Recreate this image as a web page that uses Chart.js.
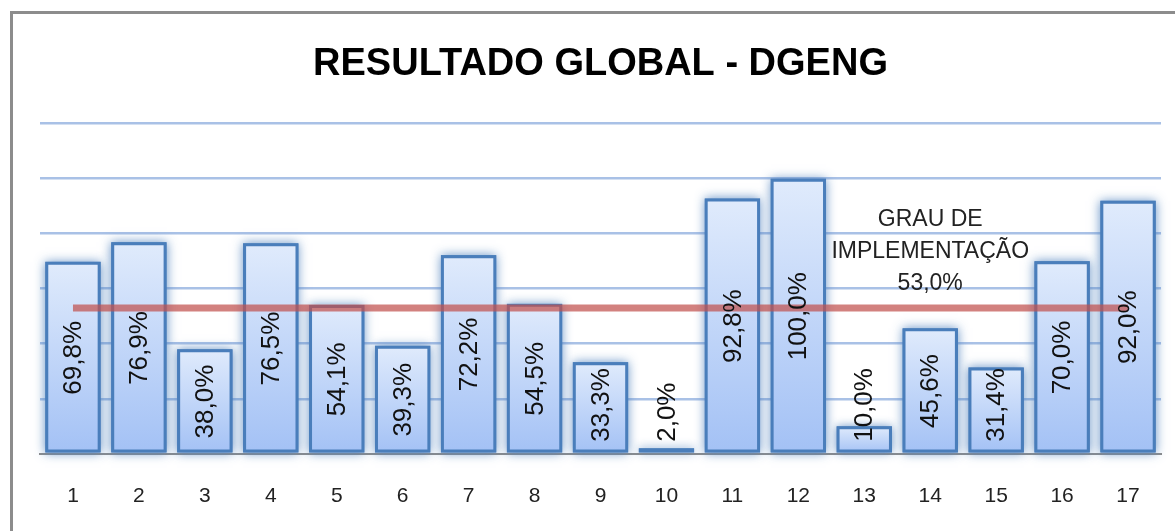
<!DOCTYPE html>
<html>
<head>
<meta charset="utf-8">
<script src="https://cdn.jsdelivr.net/npm/chart.js@4.4.1/dist/chart.umd.min.js"></script>
<style>
html,body{margin:0;padding:0;background:#fff;overflow:hidden;width:1175px;height:531px;}
#frame{position:absolute;left:10px;top:11px;width:1300px;height:700px;border:3px solid #8c8c8c;box-sizing:border-box;}
#wrap{position:absolute;left:0;top:0;width:1175px;height:539px;}
</style>
</head>
<body>
<div id="frame"></div>
<div id="wrap"><canvas id="chart"></canvas></div>
<script>

/* data */

const categories = ["1","2","3","4","5","6","7","8","9","10","11","12","13","14","15","16","17"];
const results = [69.8, 76.9, 38.0, 76.5, 54.1, 39.3, 72.2, 54.5, 33.3, 2.0, 92.8, 100.0, 10.0, 45.6, 31.4, 70.0, 92.0];
const globalRate = 53.0;
const rateLine = categories.map(() => globalRate);
const rateText = ["GRAU DE", "IMPLEMENTAÇÃO", "53,0%"];
const yTicks = [0, 20, 40, 60, 80, 100, 120];

const fmt = v => v.toFixed(1).replace(".", ",") + "%";


/* bar gradient, one per bar */

function barFill(c){
  const chart = c.chart;
  const y = chart.scales.y;
  if(!chart.chartArea || !y || c.type !== "data") return "#c7dbf9";
  const top = y.getPixelForValue(c.raw);
  const bottom = y.getPixelForValue(0);
  if(!isFinite(top) || top === bottom) return "#c7dbf9";
  const g = chart.ctx.createLinearGradient(0, top, 0, bottom);
  g.addColorStop(0, "#e0ebfc");
  g.addColorStop(1, "#a3c1f5");
  return g;
}


/* soft glow behind each bar (drawn before the bars, they cover the core) */

const barGlow = {
  id: "barGlow",
  beforeDatasetDraw(chart, args){
    if(args.index !== 0) return;
    const ctx = chart.ctx;
    const meta = chart.getDatasetMeta(0);
    ctx.save();
    ctx.shadowColor = "rgba(79,129,189,0.85)";
    ctx.shadowBlur = 10;
    ctx.fillStyle = "#4a7ebb";
    meta.data.forEach(bar => {
      const p = bar.getProps(["x", "y", "base", "width"], true);
      ctx.fillRect(p.x - p.width / 2, p.y, p.width, p.base - p.y);
    });
    ctx.restore();
  }
};


/* rotated value labels */

const valueLabels = {
  id: "valueLabels",
  afterDatasetsDraw(chart){
    const ctx = chart.ctx;
    const meta = chart.getDatasetMeta(0);
    const base = chart.scales.y.getPixelForValue(0);
    ctx.save();
    ctx.font = "26px 'Liberation Sans', Arial, sans-serif";
    ctx.fillStyle = "#111";
    ctx.textAlign = "center";
    ctx.textBaseline = "middle";
    meta.data.forEach((bar, i) => {
      const txt = fmt(results[i]);
      const len = ctx.measureText(txt).width;
      let cy = (bar.y + base) / 2;
      cy = Math.min(cy, base - 12 - len / 2);
      ctx.save();
      ctx.translate(bar.x, cy);
      ctx.rotate(-Math.PI / 2);
      ctx.fillText(txt, 0, 1);
      ctx.restore();
    });
    ctx.restore();
  }
};


/* text for the average line */

const rateNote = {
  id: "rateNote",
  afterDatasetsDraw(chart){
    const ctx = chart.ctx;
    const x = chart.scales.x.getPixelForValue(13);
    const y0 = chart.scales.y.getPixelForValue(globalRate) - 88;
    ctx.save();
    ctx.font = "23px 'Liberation Sans', Arial, sans-serif";
    ctx.fillStyle = "#222";
    ctx.textAlign = "center";
    ctx.textBaseline = "middle";
    rateText.forEach((t, i) => ctx.fillText(t, x, y0 + i * 32));
    ctx.restore();
  }
};


const ctx = document.getElementById("chart").getContext("2d");

const chart = new Chart(ctx, {
  data: {
    labels: categories,
    datasets: [{
      type: "bar",
      data: results,
      backgroundColor: barFill,
      borderColor: "#4a7ebb",
      borderWidth: 3,
      borderSkipped: false,
      categoryPercentage: 1,
      barPercentage: 0.84,
      order: 1
    },{
      type: "line",
      data: rateLine,
      borderColor: "rgba(192,80,77,0.72)",
      borderWidth: 7,
      pointRadius: 0,
      fill: false,
      order: 0
    }]
  },
  plugins: [barGlow, valueLabels, rateNote],
  options: {
    responsive: true,
    maintainAspectRatio: false,
    animation: false,
    layout: { padding: { left: 40, right: 14, top: 0, bottom: 0 } },
    plugins: {
      legend: { display: false },
      tooltip: { enabled: false },
      title: {
        display: true,
        text: "RESULTADO GLOBAL - DGENG",
        color: "#000",
        font: { family: "'Liberation Sans', Arial, sans-serif", size: 38, weight: "bold" },
        padding: { top: 42, bottom: 36 }
      }
    },
    scales: {
      x: {
        grid: { display: false, drawTicks: false },
        border: { display: true, color: "#8c8c8c", width: 2 },
        ticks: {
          color: "#222",
          padding: 30,
          font: { family: "'Liberation Sans', Arial, sans-serif", size: 21 }
        }
      },
      y: {
        min: 0,
        max: 120,
        afterBuildTicks: axis => { axis.ticks = yTicks.map(v => ({ value: v })); },
        ticks: { display: false },
        border: { display: false },
        grid: {
          drawTicks: false,
          lineWidth: 2.5,
          color: c => c.tick && c.tick.value === 0 ? "rgba(0,0,0,0)" : "#a9c1e6"
        }
      }
    }
  }
});

</script>
</body>
</html>
